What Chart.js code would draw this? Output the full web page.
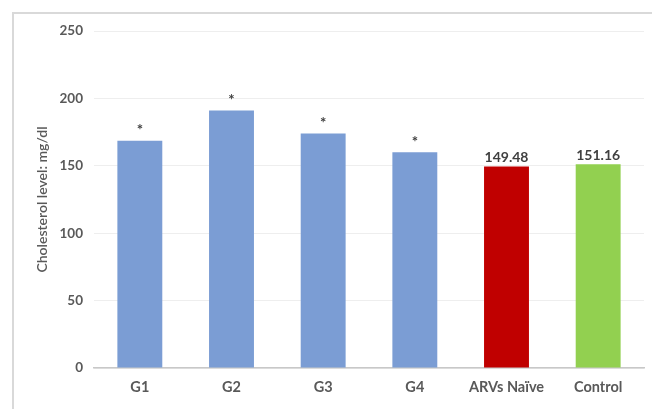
<!DOCTYPE html>
<html lang="en">
<head>
    <meta charset="UTF-8">
    <title>Cholesterol level</title>
    <script src="https://cdn.jsdelivr.net/npm/chart.js"></script>
    <style>
        html, body { margin: 0; padding: 0; background: #fff; }
        #wrap { width: 652px; height: 409px; position: relative; }
    </style>
</head>
<body>
<div id="wrap"><canvas id="chart" width="652" height="409"></canvas></div>

<script>
    // data
    const groups = ['G1', 'G2', 'G3', 'G4', 'ARVs Naïve', 'Control'];
    const cholesterol = [168.5, 191, 174, 160, 149.48, 151.16];
    const barColors = ['#7b9dd4', '#7b9dd4', '#7b9dd4', '#7b9dd4', '#c00000', '#92d050'];
    const barNotes = ['*', '*', '*', '*', '149.48', '151.16'];
    const yTicks = [0, 50, 100, 150, 200, 250];

    const textGray = '#595959';

    // light frame around the figure (cropped on the right / bottom)
    const framePlugin = {
        id: 'frame',
        beforeDraw(chart) {
            const c = chart.ctx;
            c.save();
            c.strokeStyle = '#d9d9d9';
            c.lineWidth = 2;
            c.beginPath();
            c.moveTo(13, 409);
            c.lineTo(13, 13);
            c.lineTo(652, 13);
            c.stroke();
            c.restore();
        }
    };

    // asterisks / values above bars
    const notePlugin = {
        id: 'notes',
        afterDatasetsDraw(chart) {
            const c = chart.ctx;
            const meta = chart.getDatasetMeta(0);
            c.save();
            c.textAlign = 'center';
            c.textBaseline = 'bottom';
            c.fillStyle = '#404040';
            meta.data.forEach((bar, i) => {
                const txt = barNotes[i];
                if (txt === '*') {
                    c.font = 'bold 15px Lato';
                    c.fillText(txt, bar.x, bar.y - 3);
                } else {
                    c.font = 'bold 14px Lato';
                    c.fillText(txt, bar.x, bar.y - 2);
                }
            });
            c.restore();
        }
    };

    new Chart(document.getElementById('chart'), {
        type: 'bar',
        data: {
            labels: groups,
            datasets: [{
                data: cholesterol,
                backgroundColor: barColors,
                barPercentage: 0.49,
                categoryPercentage: 1
            }]
        },
        options: {
            responsive: false,
            animation: false,
            layout: { padding: { left: 0, top: 31, right: 8, bottom: 0 } },
            plugins: {
                legend: { display: false },
                tooltip: { enabled: false }
            },
            scales: {
                x: {
                    grid: { display: false, drawTicks: false },
                    border: { color: '#c8c8c8', width: 1.5 },
                    ticks: {
                        color: textGray,
                        font: { family: 'Lato', size: 14.5, weight: 'bold' },
                        padding: 11
                    },
                    afterFit(scale) { scale.height = 41; }
                },
                y: {
                    min: 0,
                    max: 250,
                    afterBuildTicks(scale) {
                        scale.ticks = yTicks.map(v => ({ value: v }));
                    },
                    grid: { color: '#eeeeee', lineWidth: 1, drawTicks: false },
                    border: { display: false },
                    ticks: {
                        color: textGray,
                        font: { family: 'Lato', size: 13.5, weight: 'bold' },
                        padding: 11
                    },
                    title: {
                        display: true,
                        text: 'Cholesterol level: mg/dl',
                        color: textGray,
                        font: { family: 'Lato', size: 14, weight: '600' },
                        padding: { top: 34, bottom: 0 }
                    },
                    afterFit(scale) { scale.width = 94; }
                }
            }
        },
        plugins: [framePlugin, notePlugin]
    });
</script>
</body>
</html>
